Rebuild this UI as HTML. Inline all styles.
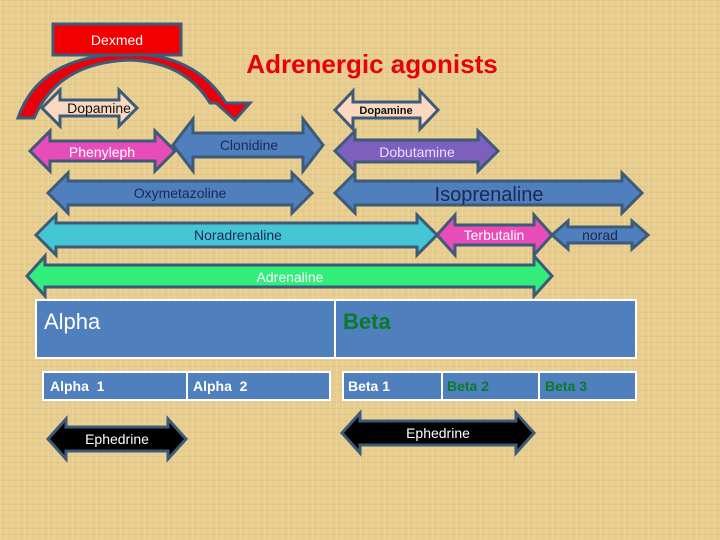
<!DOCTYPE html>
<html><head><meta charset="utf-8">
<style>
html,body{margin:0;padding:0;width:720px;height:540px;overflow:hidden;background:#e7cd8f}
svg{display:block}
text{font-family:"Liberation Sans",sans-serif}
</style></head><body>
<svg id="s" width="720" height="540" xmlns="http://www.w3.org/2000/svg">
<defs>
<pattern id="tx" width="6" height="6" patternUnits="userSpaceOnUse">
<rect width="6" height="6" fill="#e7cd8f"/>
<rect width="6" height="1" fill="#dcc07f" opacity=".5"/>
<rect width="1" height="6" fill="#f1dca6" opacity=".5"/>
</pattern>
</defs>
<rect width="720" height="540" fill="url(#tx)"/>

<!-- curved red arrow -->
<path d="M18,118 Q40,54 130,54 Q195,54 226,103 L250,103 L235,120 L216,103 L210,103 Q185,62 130,60 Q58,62 34,118 Z" fill="#e8000b" stroke="#3d5a78" stroke-width="3" stroke-linejoin="miter"/>

<g id="arrows" stroke="#3d5a78" stroke-width="3" stroke-linejoin="miter"></g>

<rect x="53" y="24" width="128" height="31" fill="#f20000" stroke="#3d5a78" stroke-width="3"/>
<text x="117" y="45" font-size="14" fill="#fff" text-anchor="middle">Dexmed</text>

<text x="372" y="73" font-size="26" font-weight="bold" fill="#e8000b" text-anchor="middle">Adrenergic agonists</text>

<g font-size="14" text-anchor="middle">
<text x="99" y="113" fill="#111">Dopamine</text>
<text x="386" y="114" fill="#111" font-size="11" font-weight="bold">Dopamine</text>
<text x="102" y="157" fill="#fff">Phenyleph</text>
<text x="249" y="150" fill="#1a2a55">Clonidine</text>
<text x="417" y="157" fill="#e8e0ff">Dobutamine</text>
<text x="180" y="198" fill="#1a2a55">Oxymetazoline</text>
<text x="489" y="201" fill="#1a2a55" font-size="20">Isoprenaline</text>
<text x="238" y="240" fill="#1a2a55">Noradrenaline</text>
<text x="494" y="240" fill="#fff">Terbutalin</text>
<text x="600" y="240" fill="#1a2a55">norad</text>
<text x="290" y="282" fill="#fff">Adrenaline</text>
</g>

<rect x="36" y="300" width="299" height="58" fill="#4f7fbd" stroke="#fff" stroke-width="2"/>
<rect x="335" y="300" width="301" height="58" fill="#4f7fbd" stroke="#fff" stroke-width="2"/>
<text x="44" y="329" font-size="22" fill="#fff">Alpha</text>
<text x="343" y="329" font-size="22" font-weight="bold" fill="#0a7a2a">Beta</text>

<g stroke="#fff" stroke-width="2" fill="#4f7fbd">
<rect x="43" y="372" width="144" height="28"/>
<rect x="187" y="372" width="143" height="28"/>
<rect x="343" y="372" width="99" height="28"/>
<rect x="442" y="372" width="97" height="28"/>
<rect x="539" y="372" width="97" height="28"/>
</g>
<g font-size="14" font-weight="bold">
<text x="50" y="391" fill="#fff">Alpha&#160;&#160;1</text>
<text x="193" y="391" fill="#fff">Alpha&#160;&#160;2</text>
<text x="348" y="391" fill="#fff">Beta 1</text>
<text x="447" y="391" fill="#0a7a2a">Beta 2</text>
<text x="545" y="391" fill="#0a7a2a">Beta 3</text>
</g>
<g font-size="14" fill="#fff" text-anchor="middle">
<text x="117" y="444">Ephedrine</text>
<text x="438" y="438">Ephedrine</text>
</g>
</svg>
<script>
var A=[
[42,137,108,8,18,18,"#fbd9c0"],
[335,438,110,8,19,18,"#fbd9c0"],
[30,175,151,10,20,20,"#e84cb8"],
[173,323,145,12,26,20,"#4f7fbd"],
[335,498,151,11,20,20,"#7d5fbd"],
[48,312,193,12,20,20,"#4f7fbd"],
[335,642,193,12,20,20,"#4f7fbd"],
[36,437,235,12,20,20,"#45c6d4"],
[437,552,235,10,20,18,"#e84cb8"],
[552,648,235,8,14,16,"#4f7fbd"],
[27,552,276,11,20,18,"#33ee7a"],
[48,186,439,12,20,18,"#000"],
[342,534,433,12,20,18,"#000"]];
var g=document.getElementById("arrows"),ns="http://www.w3.org/2000/svg";
A.forEach(function(a){var x1=a[0],x2=a[1],c=a[2],h=a[3],H=a[4],L=a[5];
var p=[[x1,c],[x1+L,c-H],[x1+L,c-h],[x2-L,c-h],[x2-L,c-H],[x2,c],[x2-L,c+H],[x2-L,c+h],[x1+L,c+h],[x1+L,c+H]];
var e=document.createElementNS(ns,"polygon");e.setAttribute("points",p.map(function(q){return q.join(",")}).join(" "));
e.setAttribute("fill",a[6]);g.appendChild(e);});
</script>
</body></html>
